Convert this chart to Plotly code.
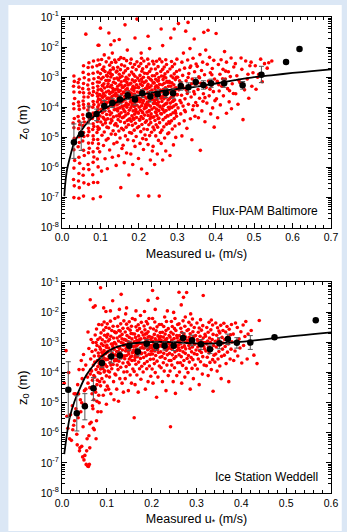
import numpy as np
import plotly.graph_objects as go

# Scatter values are written as flat pairs: u* in mm/s (1e-3 m/s), log10(z0) in hundredths.
# ---------------- Flux-PAM Baltimore ----------------
flux_pts_low = [
31,-700, 32,-661, 30,-640, 31,-602, 33,-577, 31,-541, 30,-522, 32,-503, 31,-468, 29,-452, 32,-437, 31,-405, 30,-388, 33,-371, 31,-349, 30,-330, 32,-314, 31,-296,
44,-702, 45,-667, 43,-645, 44,-620, 46,-586, 44,-566, 42,-531, 45,-517, 44,-498, 43,-471, 46,-458, 44,-446, 42,-431, 45,-407, 44,-395, 43,-383, 46,-350, 44,-333, 42,-318, 45,-307,
56,-695, 57,-651, 55,-626, 56,-604, 58,-560, 56,-543, 54,-512, 57,-497, 56,-484, 55,-461, 58,-449, 56,-437, 54,-425, 57,-402, 56,-391, 55,-379, 57,-366, 56,-352, 54,-338, 56,-321, 58,-302, 55,-284, 56,-262, 62,-157,
69,-656, 70,-607, 68,-590, 69,-551, 71,-536, 69,-519, 67,-494, 70,-481, 69,-470, 68,-449, 71,-439, 69,-428, 67,-409, 70,-399, 69,-389, 68,-366, 71,-353, 69,-340, 67,-326, 70,-309, 69,-290, 68,-268, 70,-252,
81,-704, 82,-650, 80,-624, 81,-583, 83,-565, 81,-548, 79,-519, 82,-507, 81,-495, 80,-474, 83,-464, 81,-455, 79,-437, 82,-428, 81,-419, 80,-400, 83,-391, 81,-381, 79,-360, 82,-348, 81,-335, 80,-321, 83,-305, 81,-287, 79,-266, 82,-246,
93,-650, 94,-598, 92,-572, 93,-536, 95,-521, 93,-507, 91,-484, 94,-474, 93,-465, 92,-447, 95,-439, 93,-431, 91,-415, 94,-407, 93,-399, 92,-382, 95,-373, 93,-363, 91,-353, 94,-342, 93,-330, 92,-316, 95,-301, 93,-283, 91,-262, 94,-243, 94,-194,
]
flux_pts_core = [
100,-697, 103,-612, 112,-571, 98,-548, 108,-527, 115,-509, 104,-493, 110,-482, 97,-471, 117,-466, 106,-458, 101,-449, 113,-443, 109,-437, 99,-429, 116,-424, 105,-418, 111,-412, 102,-407, 118,-401, 107,-396, 96,-392, 114,-388, 103,-384, 110,-379, 100,-375, 117,-371, 106,-367, 112,-362, 98,-358, 108,-354, 115,-349, 104,-345, 101,-340, 111,-336, 118,-331, 105,-327, 109,-322, 97,-317, 114,-311, 102,-306, 107,-300, 116,-294, 100,-288, 112,-281, 105,-274, 109,-266, 98,-258, 115,-249, 103,-241, 110,-226, 100,-137, 96,-194, 113,-452, 107,-433, 116,-385, 104,-363, 106,-329, 118,-297, 108,-277,
122,-153, 127,-192, 118,-604, 131,-566, 124,-542, 135,-521, 120,-504, 128,-489, 133,-478, 121,-468, 137,-459, 126,-452, 130,-445, 119,-438, 134,-432, 125,-425, 129,-419, 123,-413, 136,-408, 120,-402, 131,-397, 127,-392, 138,-387, 122,-382, 133,-377, 126,-373, 119,-369, 130,-364, 135,-360, 124,-355, 128,-351, 121,-346, 137,-342, 132,-337, 125,-332, 129,-327, 120,-322, 134,-317, 123,-311, 136,-305, 127,-299, 131,-292, 121,-285, 126,-277, 133,-269, 124,-260, 129,-251, 137,-243, 122,-236, 131,-220, 128,-440, 135,-395, 123,-370, 132,-348, 119,-310, 126,-288, 134,-273,
153,-667, 141,-593, 147,-561, 156,-537, 143,-516, 151,-502, 139,-490, 148,-479, 155,-470, 144,-462, 140,-454, 152,-447, 146,-441, 157,-435, 142,-429, 149,-423, 154,-418, 145,-412, 139,-407, 150,-402, 156,-397, 143,-392, 147,-388, 153,-383, 141,-379, 158,-374, 146,-370, 151,-366, 144,-361, 155,-357, 140,-353, 148,-348, 152,-344, 142,-339, 157,-334, 145,-330, 150,-325, 139,-320, 154,-315, 147,-309, 143,-303, 156,-297, 149,-290, 141,-283, 152,-275, 145,-267, 155,-259, 140,-250, 148,-241, 153,-235, 136,-179, 149,-175, 150,-430, 144,-405, 157,-381, 140,-362, 146,-342, 154,-326, 151,-301, 143,-280,
174,-625, 162,-584, 168,-552, 159,-526, 171,-508, 165,-495, 176,-484, 160,-475, 167,-466, 173,-458, 163,-451, 170,-444, 177,-438, 161,-432, 166,-426, 172,-421, 164,-415, 175,-410, 159,-405, 169,-400, 162,-395, 173,-391, 167,-386, 178,-382, 160,-377, 165,-373, 171,-369, 163,-364, 176,-360, 168,-356, 161,-351, 174,-347, 166,-342, 170,-338, 159,-333, 164,-328, 177,-323, 169,-318, 162,-312, 172,-306, 167,-300, 175,-293, 160,-286, 165,-279, 171,-271, 163,-263, 178,-254, 168,-245, 161,-238, 164,-126, 170,-210, 174,-440, 162,-412, 167,-392, 177,-371, 160,-349, 172,-326, 165,-309,
198,-694, 184,-590, 179,-555, 190,-530, 186,-511, 193,-497, 181,-486, 188,-476, 196,-468, 183,-460, 191,-453, 180,-446, 187,-440, 194,-434, 182,-428, 189,-423, 197,-417, 185,-412, 192,-407, 179,-402, 188,-397, 195,-393, 183,-388, 190,-384, 181,-379, 186,-375, 198,-371, 193,-366, 184,-362, 189,-358, 180,-353, 196,-349, 187,-344, 182,-340, 191,-335, 185,-330, 194,-325, 179,-320, 188,-315, 183,-309, 197,-303, 190,-297, 186,-290, 181,-283, 193,-275, 184,-267, 189,-258, 195,-249, 180,-240, 195,-107, 190,-170, 186,-436, 192,-415, 182,-395, 197,-380, 188,-356, 184,-337, 191,-312,
207,-605, 199,-570, 212,-540, 203,-520, 210,-504, 216,-492, 205,-481, 213,-472, 200,-464, 208,-457, 217,-450, 202,-443, 211,-437, 206,-431, 215,-426, 199,-420, 209,-415, 204,-410, 214,-405, 201,-400, 207,-395, 218,-391, 210,-386, 203,-382, 212,-378, 205,-373, 200,-369, 216,-365, 208,-360, 213,-356, 202,-351, 206,-347, 211,-342, 217,-338, 199,-333, 209,-328, 204,-323, 214,-318, 201,-312, 207,-306, 212,-300, 203,-294, 215,-287, 208,-280, 210,-272, 200,-264, 205,-255, 213,-246, 207,-237, 206,-220, 202,-440, 210,-418, 216,-398, 204,-376, 212,-354, 199,-335, 209,-315,
226,-695, 221,-620, 230,-575, 235,-545, 224,-524, 219,-507, 228,-494, 233,-483, 222,-474, 237,-466, 226,-458, 231,-451, 220,-445, 229,-439, 236,-433, 224,-427, 232,-422, 221,-416, 227,-411, 234,-406, 219,-401, 230,-396, 225,-392, 238,-387, 222,-383, 228,-378, 233,-374, 220,-370, 226,-365, 231,-361, 236,-357, 223,-352, 229,-348, 234,-343, 221,-339, 227,-334, 232,-329, 224,-324, 237,-319, 219,-313, 230,-307, 225,-301, 235,-295, 222,-288, 228,-281, 232,-273, 220,-265, 226,-256, 236,-247, 223,-240, 224,-164, 228,-205, 231,-432, 226,-413, 220,-393, 235,-372, 229,-351, 222,-330, 233,-310,
253,-695, 241,-590, 248,-555, 237,-530, 251,-510, 244,-495, 256,-484, 240,-475, 249,-466, 245,-458, 254,-451, 242,-444, 250,-438, 239,-432, 247,-427, 257,-421, 243,-416, 252,-411, 246,-406, 240,-401, 255,-396, 249,-392, 244,-387, 251,-383, 241,-378, 247,-374, 258,-370, 243,-365, 253,-361, 239,-357, 248,-352, 245,-348, 256,-343, 242,-339, 250,-334, 246,-329, 254,-324, 240,-319, 249,-313, 244,-307, 252,-301, 241,-295, 247,-288, 257,-281, 243,-273, 250,-265, 239,-256, 246,-247, 254,-240, 258,-140, 252,-436, 245,-417, 255,-399, 241,-376, 249,-356, 243,-332, 251,-311,
262,-575, 270,-545, 258,-520, 267,-502, 275,-488, 260,-476, 265,-465, 272,-456, 278,-448, 263,-441, 269,-434, 274,-428, 259,-422, 266,-416, 271,-411, 261,-405, 277,-400, 264,-395, 268,-390, 273,-386, 260,-381, 276,-376, 265,-372, 270,-367, 262,-363, 267,-358, 275,-354, 259,-349, 272,-345, 264,-340, 269,-335, 277,-330, 261,-325, 266,-320, 273,-314, 263,-308, 270,-302, 259,-296, 268,-289, 275,-282, 262,-274, 266,-266, 272,-258, 260,-249, 270,-242, 262,-195, 276,-429, 263,-408, 271,-388, 258,-368, 267,-344, 274,-317, 265,-298,
281,-560, 290,-525, 296,-500, 278,-485, 287,-472, 294,-462, 280,-453, 285,-445, 292,-437, 298,-430, 283,-424, 289,-418, 295,-412, 279,-406, 286,-401, 291,-396, 297,-391, 282,-386, 288,-381, 293,-376, 280,-372, 284,-367, 290,-363, 299,-358, 285,-354, 281,-349, 294,-344, 288,-340, 297,-335, 283,-330, 291,-325, 286,-319, 279,-314, 295,-308, 289,-302, 284,-296, 292,-289, 298,-281, 281,-273, 287,-265, 293,-256, 285,-248, 299,-240, 292,-140, 283,-170, 296,-420, 282,-399, 290,-378, 287,-356, 294,-336, 280,-318, 298,-300,
]
flux_pts_high = [
303,-122, 328,-118, 322,-147, 344,-173, 338,-508, 312,-495, 325,-470, 305,-455, 318,-445, 334,-438, 346,-430, 309,-422, 321,-415, 340,-408, 302,-402, 315,-396, 329,-390, 348,-384, 307,-378, 320,-372, 336,-366, 311,-360, 326,-354, 343,-348, 304,-342, 317,-336, 331,-330, 347,-324, 309,-318, 323,-312, 339,-306, 301,-300, 314,-294, 330,-288, 345,-282, 306,-276, 319,-270, 335,-263, 349,-256, 312,-250, 327,-243, 341,-237, 316,-220, 333,-205,
310,-385, 324,-343, 337,-322, 300,-358, 342,-395, 313,-327, 328,-301, 345,-356, 319,-410, 333,-268, 306,-312,
369,-151, 380,-144, 360,-543, 396,-466, 372,-448, 355,-435, 387,-422, 364,-412, 392,-402, 352,-394, 377,-386, 398,-378, 358,-370, 383,-362, 368,-355, 394,-348, 354,-341, 375,-334, 389,-327, 361,-320, 381,-313, 397,-306, 356,-299, 371,-292, 386,-285, 363,-278, 391,-271, 352,-264, 378,-257, 366,-250, 395,-244, 384,-234, 359,-225, 374,-210, 367,-380, 385,-340, 353,-318, 390,-292, 372,-368, 358,-302,
405,-435, 428,-420, 441,-405, 412,-392, 435,-382, 402,-372, 420,-362, 446,-354, 409,-346, 431,-338, 416,-330, 443,-322, 404,-314, 425,-306, 438,-298, 411,-290, 433,-282, 419,-274, 447,-266, 407,-258, 428,-250, 414,-242, 440,-236, 423,-215, 401,-155, 418,-305, 436,-345, 408,-325, 426,-280,
471,-441, 458,-390, 486,-370, 452,-355, 475,-342, 494,-330, 463,-318, 482,-306, 455,-295, 497,-285, 468,-274, 489,-262, 451,-255, 478,-246, 466,-236, 492,-250, 460,-310, 484,-290,
505,-340, 521,-315, 512,-290, 534,-270, 503,-262, 527,-255, 546,-246, 517,-240, 538,-252, 509,-300,
]
flux_bin_u = [0.031,0.05,0.07,0.09,0.11,0.131,0.151,0.171,0.19,0.209,0.23,0.249,0.27,0.289,0.309,0.329,0.348,0.368,0.388,0.422,0.47,0.519,0.583,0.618]
flux_bin_z0 = [6.9e-6,1.3e-5,5.4e-5,6e-5,1.1e-4,1.4e-4,1.8e-4,2.5e-4,1.8e-4,2.9e-4,2.3e-4,2.7e-4,3e-4,2.9e-4,5.1e-4,4.6e-4,6.9e-4,5.5e-4,6.3e-4,6.3e-4,5.4e-4,1.2e-3,3.2e-3,8.7e-3]
flux_bin_hi = [2.8e-5,3.2e-5,1.1e-4,8.7e-5,1.7e-4,2e-4,2.5e-4,3.4e-4,2.6e-4,3.9e-4,3.3e-4,3.8e-4,4.2e-4,4.1e-4,7e-4,6.5e-4,9.5e-4,7.6e-4,8.6e-4,8.6e-4,7.2e-4,2.3e-3,3.2e-3,8.7e-3]
flux_bin_lo = [2e-6,3.7e-6,2.8e-5,3.6e-5,7.7e-5,9.8e-5,1.3e-4,1.8e-4,1.2e-4,2.1e-4,1.5e-4,1.9e-4,2.1e-4,2e-4,3.7e-4,3.2e-4,5e-4,4e-4,4.6e-4,4.6e-4,4e-4,6.6e-4,3.2e-3,8.7e-3]
flux_fit_u = [0.006,0.008,0.0127,0.021,0.031,0.05,0.07,0.097,0.131,0.164,0.215,0.274,0.342,0.4,0.45,0.5,0.55,0.6,0.65,0.7]
flux_fit_log10 = [-6.95,-6.6,-6.1,-5.65,-5.21,-4.78,-4.45,-4.17,-3.9,-3.73,-3.56,-3.43,-3.33,-3.21,-3.1,-3.0,-2.93,-2.86,-2.8,-2.74]

# ---------------- Ice Station Weddell ----------------
wed_pts_low = [
5,-435, 9,-327, 15,-400, 17,-620, 19,-540, 21,-625, 24,-590, 26,-575, 28,-560, 30,-470, 31,-520, 33,-605, 35,-440, 36,-550, 38,-390, 39,-660, 40,-650, 41,-490, 42,-530, 43,-360, 44,-645, 45,-420, 46,-680, 47,-580, 48,-340, 49,-690, 50,-460, 51,-675, 52,-505, 53,-375, 54,-705, 55,-660, 56,-620, 57,-710, 58,-435, 58,-265, 59,-712, 60,-610, 60,-320, 61,-705, 62,-570, 62,-650, 63,-405, 63,-158, 64,-355, 65,-565, 65,-290, 66,-450, 67,-330, 68,-510, 68,-425, 69,-300, 70,-585, 70,-375, 70,-183, 71,-490, 72,-590, 72,-345, 73,-415, 74,-275, 74,-178, 75,-465, 75,-325, 76,-620, 76,-390, 77,-560, 77,-255, 78,-440, 78,-310, 79,-360, 80,-530, 80,-290, 81,-400, 81,-335, 82,-475, 82,-240, 83,-370, 83,-500, 84,-315, 84,-430,
66,-395, 71,-410, 73,-365, 76,-300, 79,-425, 80,-380, 82,-345, 84,-360, 67,-470, 69,-520, 74,-455, 78,-495, 62,-450, 64,-390, 57,-415, 53,-455, 47,-390, 44,-500, 37,-470, 27,-470, 23,-510, 11,-545, 13,-585, 34,-640,
]
wed_pts_core = [
86,-118, 93,-185, 98,-197, 99,-505, 87,-530, 92,-475, 97,-458, 86,-444, 94,-431, 89,-420, 99,-411, 85,-402, 95,-394, 91,-386, 88,-379, 96,-373, 90,-367, 87,-362, 98,-357, 93,-352, 85,-347, 91,-342, 97,-337, 89,-332, 94,-327, 86,-322, 99,-316, 92,-310, 88,-304, 96,-298, 90,-291, 85,-284, 95,-276, 87,-268, 93,-259, 98,-250, 89,-241, 94,-232, 90,-370, 92,-366, 88,-368, 95,-372, 87,-364, 93,-375, 89,-361, 97,-355, 91,-345, 86,-388, 94,-398, 90,-335,
113,-161, 108,-195, 116,-490, 104,-455, 109,-470, 101,-445, 115,-430, 106,-415, 118,-405, 103,-395, 111,-387, 100,-380, 114,-373, 107,-367, 117,-361, 102,-356, 110,-351, 105,-346, 119,-341, 112,-336, 101,-332, 108,-327, 116,-322, 104,-318, 113,-313, 100,-309, 110,-305, 117,-300, 103,-295, 106,-290, 115,-285, 109,-279, 102,-273, 119,-267, 111,-260, 105,-253, 114,-246, 101,-238, 108,-229, 118,-220, 111,-342, 119,-357, 103,-330, 109,-375, 113,-305, 100,-282, 117,-264, 106,-398,
132,-140, 128,-190, 137,-465, 126,-495, 122,-455, 134,-435, 129,-420, 120,-408, 138,-398, 125,-390, 131,-382, 123,-375, 136,-368, 127,-362, 121,-356, 133,-350, 139,-345, 126,-340, 130,-335, 122,-330, 135,-325, 128,-320, 124,-315, 137,-310, 120,-305, 132,-300, 126,-295, 139,-290, 123,-285, 129,-279, 134,-273, 121,-267, 127,-260, 136,-253, 124,-246, 131,-238, 138,-228, 125,-215, 129,-318, 123,-343, 136,-302, 121,-360, 134,-288, 126,-330, 138,-345, 130,-262,
161,-550, 148,-460, 155,-435, 141,-420, 152,-408, 145,-397, 158,-388, 143,-380, 150,-373, 147,-366, 156,-360, 140,-354, 153,-348, 144,-343, 149,-338, 157,-333, 142,-328, 151,-323, 146,-318, 159,-313, 141,-308, 154,-303, 148,-298, 143,-293, 156,-288, 150,-283, 145,-277, 158,-271, 141,-265, 152,-259, 147,-253, 155,-246, 144,-239, 150,-231, 157,-220, 142,-205, 144,-185, 152,-300, 148,-330, 156,-345, 146,-312, 140,-290, 154,-270, 150,-355, 143,-320,
170,-465, 163,-440, 176,-422, 167,-408, 161,-396, 173,-387, 178,-379, 165,-372, 171,-365, 162,-359, 175,-353, 168,-347, 164,-342, 177,-337, 160,-332, 172,-327, 166,-322, 179,-317, 163,-312, 169,-307, 174,-303, 161,-298, 167,-293, 176,-288, 164,-283, 171,-278, 162,-272, 178,-266, 168,-260, 173,-254, 165,-248, 170,-241, 177,-233, 163,-224, 175,-210, 165,-195, 171,-300, 177,-335, 163,-350, 169,-295, 175,-318, 160,-325, 173,-290, 167,-310,
186,-455, 192,-430, 198,-412, 181,-398, 189,-387, 195,-378, 184,-370, 190,-363, 197,-356, 182,-350, 188,-344, 194,-339, 185,-334, 199,-329, 191,-324, 183,-319, 187,-314, 196,-310, 180,-306, 193,-302, 186,-298, 190,-294, 198,-290, 184,-285, 195,-280, 181,-275, 189,-270, 192,-264, 185,-258, 197,-252, 183,-245, 191,-238, 188,-230, 194,-220, 184,-197, 192,-160, 186,-300, 194,-320, 189,-290, 197,-340, 180,-305, 192,-282, 186,-272,
211,-482, 203,-435, 214,-415, 208,-400, 201,-388, 217,-378, 206,-370, 212,-362, 204,-355, 219,-349, 209,-343, 202,-338, 215,-333, 207,-328, 213,-323, 200,-318, 210,-313, 218,-309, 205,-305, 211,-301, 203,-297, 216,-293, 208,-288, 201,-283, 214,-278, 206,-273, 219,-267, 210,-261, 204,-255, 212,-248, 217,-240, 207,-232, 202,-220, 202,-127, 213,-153, 208,-190, 206,-300, 215,-315, 210,-295, 200,-310, 217,-285, 204,-325,
232,-460, 224,-430, 237,-410, 228,-395, 221,-384, 234,-375, 226,-367, 239,-360, 230,-353, 223,-347, 235,-341, 227,-336, 220,-331, 233,-326, 229,-321, 238,-316, 222,-312, 231,-308, 225,-304, 236,-300, 228,-296, 221,-292, 234,-287, 226,-282, 239,-277, 230,-272, 224,-266, 232,-260, 237,-254, 227,-247, 222,-240, 233,-230, 229,-215, 235,-195, 225,-305, 231,-290, 237,-320, 222,-298, 220,-280, 233,-298,
242,-580, 253,-469, 248,-430, 256,-410, 241,-395, 251,-384, 245,-375, 258,-367, 243,-360, 250,-353, 254,-347, 246,-341, 240,-336, 252,-331, 257,-326, 244,-321, 249,-316, 255,-312, 242,-308, 247,-304, 253,-300, 259,-296, 245,-292, 250,-287, 241,-282, 256,-277, 248,-272, 243,-266, 254,-260, 251,-254, 246,-247, 258,-240, 244,-230, 252,-220, 249,-200, 245,-295, 251,-315, 257,-285, 261,-133, 240,-305,
267,-435, 274,-415, 262,-398, 277,-386, 269,-376, 264,-367, 272,-360, 279,-353, 266,-347, 261,-341, 275,-336, 270,-331, 263,-326, 276,-321, 268,-316, 273,-312, 260,-308, 265,-304, 278,-300, 271,-296, 264,-292, 269,-287, 276,-282, 262,-277, 272,-272, 267,-266, 279,-260, 265,-253, 274,-246, 261,-238, 270,-228, 275,-215, 278,-134, 271,-150, 266,-175, 273,-302, 268,-290, 260,-318,
286,-455, 293,-420, 281,-400, 290,-386, 297,-375, 284,-365, 292,-357, 288,-350, 282,-343, 295,-337, 289,-331, 299,-325, 285,-320, 291,-315, 283,-310, 296,-306, 287,-302, 293,-298, 280,-293, 290,-288, 284,-283, 298,-277, 286,-271, 292,-264, 282,-257, 295,-250, 288,-242, 283,-233, 291,-222, 287,-205, 288,-300, 294,-280, 280,-295,
306,-440, 313,-405, 302,-388, 317,-375, 309,-364, 304,-355, 314,-347, 301,-340, 311,-333, 307,-327, 318,-321, 303,-315, 312,-310, 305,-305, 316,-300, 310,-295, 302,-290, 315,-285, 308,-279, 319,-273, 304,-266, 311,-259, 306,-252, 314,-244, 301,-235, 309,-224, 315,-144, 303,-295, 316,-312,
337,-462, 326,-410, 333,-390, 322,-377, 330,-366, 336,-357, 324,-349, 339,-342, 328,-335, 321,-328, 334,-322, 327,-316, 338,-310, 323,-305, 331,-300, 325,-295, 335,-290, 329,-285, 320,-279, 337,-273, 326,-266, 332,-258, 323,-250, 336,-242, 328,-233, 333,-225, 320,-300,
]
wed_pts_high = [
355,-420, 346,-395, 352,-378, 341,-365, 348,-355, 356,-346, 343,-338, 350,-330, 358,-322, 344,-315, 351,-308, 359,-302, 342,-296, 349,-290, 357,-283, 345,-276, 352,-268, 359,-260, 347,-251, 354,-243, 343,-235, 350,-262,
372,-430, 366,-370, 375,-355, 362,-342, 369,-332, 377,-322, 364,-313, 371,-305, 379,-298, 363,-290, 370,-282, 376,-274, 365,-265, 373,-256, 368,-247, 378,-240, 361,-236,
383,-360, 392,-345, 401,-368, 413,-355, 386,-328, 397,-318, 405,-310, 389,-300, 418,-305, 395,-288, 408,-280, 382,-272, 399,-264, 415,-272, 391,-250, 404,-242, 422,-260, 387,-235, 410,-230, 428,-342, 435,-370, 440,-227,
]
wed_bin_u = [0.014,0.033,0.051,0.07,0.089,0.11,0.129,0.15,0.169,0.189,0.21,0.229,0.249,0.27,0.29,0.31,0.33,0.351,0.37,0.39,0.42,0.474,0.566]
wed_bin_z0 = [2.7e-5,4.5e-6,7.6e-6,3e-5,2.1e-4,3.4e-4,3.7e-4,7.8e-4,4.9e-4,9.1e-4,7.6e-4,7.8e-4,7.8e-4,1.4e-3,1.2e-3,8.7e-4,6e-4,9.5e-4,1.3e-3,9.8e-4,1e-3,1.5e-3,5.5e-3]
wed_bin_hi = [2.3e-4,1.7e-5,2e-5,6.9e-5,3.1e-4,5.2e-4,4.9e-4,1.1e-3,6.5e-4,1.25e-3,1.05e-3,1.05e-3,1.1e-3,2.1e-3,1.75e-3,1.25e-3,8.3e-4,1.45e-3,1.9e-3,1.45e-3,1.7e-3,1.5e-3,5.5e-3]
wed_bin_lo = [3.2e-6,1.15e-6,2.7e-6,1.2e-5,1.5e-4,2.1e-4,2.8e-4,5.3e-4,3.6e-4,6.6e-4,5.5e-4,5.6e-4,5.4e-4,9.2e-4,7.8e-4,5.8e-4,4.3e-4,6.2e-4,8.6e-4,6.5e-4,5.9e-4,1.5e-3,5.5e-3]
wed_fit_u = [0.005,0.0108,0.0168,0.0276,0.0397,0.054,0.069,0.091,0.112,0.141,0.177,0.213,0.249,0.296,0.34,0.39,0.43,0.469,0.52,0.56,0.6]
wed_fit_log10 = [-6.71,-6.07,-5.52,-4.97,-4.53,-4.09,-3.78,-3.43,-3.21,-3.07,-3.0,-2.98,-2.99,-3.03,-3.03,-2.99,-2.93,-2.86,-2.78,-2.72,-2.66]

decade_vals = [1e-8, 1e-7, 1e-6, 1e-5, 1e-4, 1e-3, 1e-2, 1e-1]
decade_text = ["10<sup>-8</sup>", "10<sup>-7</sup>", "10<sup>-6</sup>", "10<sup>-5</sup>",
               "10<sup>-4</sup>", "10<sup>-3</sup>", "10<sup>-2</sup>", "10<sup>-1</sup>"]

# ---------------- figure ----------------
FONT = "Liberation Sans, Arial, sans-serif"
RED = "#ff0000"

def unpack(*groups):
    flat = np.array([v for g in groups for v in g], dtype=float)
    return flat[0::2] / 1000.0, 10.0 ** (flat[1::2] / 100.0)

fig = go.Figure()
panels = [
    ("x", "y", (flux_pts_low, flux_pts_core, flux_pts_high), flux_fit_u, flux_fit_log10,
     flux_bin_u, flux_bin_z0, flux_bin_hi, flux_bin_lo),
    ("x2", "y2", (wed_pts_low, wed_pts_core, wed_pts_high), wed_fit_u, wed_fit_log10,
     wed_bin_u, wed_bin_z0, wed_bin_hi, wed_bin_lo),
]
for xa, ya, groups, fu, fl, bu, bz, bh, bl in panels:
    cu, cz = unpack(*groups)
    fig.add_trace(go.Scatter(x=cu, y=cz, mode="markers", xaxis=xa, yaxis=ya,
                             marker=dict(color=RED, size=3.6, line=dict(width=0)),
                             hoverinfo="skip", showlegend=False))
    fig.add_trace(go.Scatter(x=fu, y=[10.0 ** v for v in fl], mode="lines", xaxis=xa, yaxis=ya,
                             line=dict(color="black", width=1.8, shape="spline", smoothing=0.8),
                             showlegend=False))
    plus = [h - z for h, z in zip(bh, bz)]
    minus = [z - l for z, l in zip(bz, bl)]
    fig.add_trace(go.Scatter(x=bu, y=bz, mode="markers", xaxis=xa, yaxis=ya,
                             marker=dict(color="black", size=6.5),
                             error_y=dict(type="data", symmetric=False, array=plus, arrayminus=minus,
                                          color="#555555", thickness=1, width=2.5),
                             showlegend=False))

minor_log = [k * 10.0 ** e for e in range(-8, -1) for k in range(2, 10)]

axis_common = dict(showline=True, linecolor="black", linewidth=1, mirror="allticks",
                   ticks="inside", tickcolor="black", ticklen=5, tickwidth=1,
                   showgrid=False, zeroline=False,
                   tickfont=dict(family=FONT, size=10.5, color="black"))
x_minor = dict(dtick=0.02, ticks="inside", ticklen=3, tickcolor="black", showgrid=False)
y_minor = dict(tickvals=minor_log, ticks="inside", ticklen=3, tickcolor="black", showgrid=False)
x_title = dict(text="Measured u<sub>*</sub> (m/s)", font=dict(size=12.5), standoff=6)
y_title = dict(text="z<sub>0</sub> (m)", font=dict(size=13), standoff=10)

fig.update_layout(
    width=347, height=532,
    margin=dict(l=62, r=9, t=17, b=36),
    paper_bgcolor="#dbe7f5", plot_bgcolor="white",
    font=dict(family=FONT, color="black"),
    xaxis=dict(domain=[0, 1], anchor="y", range=[0, 0.7], dtick=0.1, tick0=0, tickformat=".1f",
               minor=x_minor, title=x_title, **axis_common),
    yaxis=dict(domain=[0.5574, 1], anchor="x", type="log", range=[-8, -1],
               tickvals=decade_vals, ticktext=decade_text, minor=y_minor, title=y_title, **axis_common),
    xaxis2=dict(domain=[0, 1], anchor="y2", range=[0, 0.6], dtick=0.1, tick0=0, tickformat=".1f",
                minor=x_minor, title=x_title, **axis_common),
    yaxis2=dict(domain=[0, 0.4426], anchor="x2", type="log", range=[-8, -1],
                tickvals=decade_vals, ticktext=decade_text, minor=y_minor, title=y_title, **axis_common),
    shapes=[dict(type="rect", xref="paper", yref="paper", x0=-0.1993, x1=1.04, y0=-0.08, y1=1.025,
                 fillcolor="white", line=dict(width=0), layer="below")],
    annotations=[
        dict(text="Flux-PAM Baltimore", xref="x domain", yref="y domain", x=0.96, y=0.08,
             xanchor="right", yanchor="middle", showarrow=False, font=dict(size=12, family=FONT)),
        dict(text="Ice Station Weddell", xref="x2 domain", yref="y2 domain", x=0.96, y=0.075,
             xanchor="right", yanchor="middle", showarrow=False, font=dict(size=12, family=FONT)),
    ],
)

fig.write_html("out.html", config={"displayModeBar": False},
               post_script="document.body.style.margin='0';document.body.style.padding='0';"
                           "document.documentElement.style.overflow='hidden';")
